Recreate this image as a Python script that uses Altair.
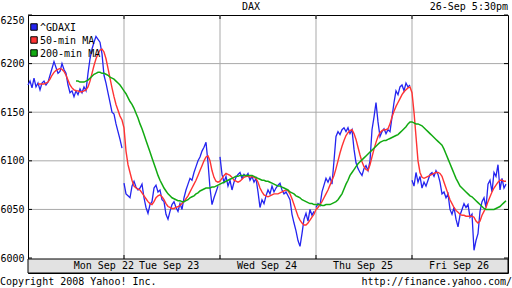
import altair as alt
import pandas as pd

# ---------------- data ----------------
days = ["Mon Sep 22", "Tue Sep 23", "Wed Sep 24", "Thu Sep 25", "Fri Sep 26"]
day_label_pos = [0.79, 1.47, 2.49, 3.49, 4.49]
y_ticks = [6000, 6050, 6100, 6150, 6200, 6250]
grid_y = [6050, 6100, 6150, 6200]
grid_x = [1, 2, 3, 4]
series_names = ["^GDAXI", "50-min MA", "200-min MA"]
series_colors = ["#2424f0", "#ff3333", "#12aa12"]

gdaxi_mon = [6178, 6182, 6175, 6185, 6176, 6180, 6173, 6180, 6182, 6178, 6181, 6188, 6195, 6202, 6196, 6190,
             6192, 6200, 6194, 6190, 6178, 6170, 6172, 6166, 6172, 6168, 6174, 6170, 6176, 6172, 6190, 6205,
             6215, 6222, 6228, 6225, 6222, 6210, 6188, 6180, 6170, 6160, 6150, 6148, 6138, 6130, 6122, 6113]
gdaxi_tue = [6077, 6066, 6064, 6062, 6074, 6079, 6073, 6070, 6072, 6076, 6062, 6052, 6046, 6055, 6058, 6072,
             6075, 6068, 6070, 6060, 6058, 6045, 6040, 6048, 6055, 6058, 6052, 6048, 6056, 6050, 6062, 6070,
             6076, 6082, 6080, 6088, 6094, 6100, 6104, 6110, 6114, 6119, 6098, 6072, 6055, 6062, 6068, 6074]
gdaxi_wed = [6104, 6086, 6078, 6084, 6074, 6080, 6070, 6078, 6083, 6086, 6088, 6082, 6086, 6084, 6087, 6080,
             6084, 6078, 6082, 6068, 6052, 6060, 6056, 6064, 6070, 6066, 6074, 6068, 6072, 6075, 6077, 6070,
             6066, 6068, 6064, 6060, 6045, 6036, 6028, 6018, 6012, 6025, 6040, 6046, 6038, 6050, 6044, 6048]
gdaxi_thu = [6052, 6056, 6054, 6068, 6075, 6082, 6078, 6083, 6076, 6100, 6125, 6130, 6127, 6132, 6134, 6130,
             6134, 6128, 6132, 6112, 6098, 6092, 6088, 6085, 6092, 6095, 6090, 6100, 6132, 6145, 6160, 6140,
             6125, 6130, 6133, 6128, 6132, 6130, 6145, 6160, 6172, 6168, 6176, 6178, 6172, 6180, 6176, 6178]
gdaxi_fri = [6080, 6074, 6088, 6078, 6084, 6072, 6078, 6074, 6080, 6086, 6088, 6084, 6090, 6086, 6078, 6066,
             6068, 6062, 6066, 6050, 6045, 6052, 6040, 6032, 6044, 6050, 6056, 6052, 6055, 6042, 6045, 6008,
             6018, 6025, 6048, 6058, 6062, 6052, 6076, 6080, 6068, 6088, 6084, 6096, 6070, 6082, 6072, 6076]

ma50_mon = [6179, 6179, 6179, 6179, 6180, 6181, 6184, 6188, 6191, 6193, 6194, 6195, 6194, 6192, 6188,
            6183, 6178, 6175, 6173, 6172, 6172, 6171, 6171, 6172, 6173, 6176, 6182, 6190, 6198, 6205,
            6210, 6214, 6215, 6212, 6205, 6195, 6185, 6175, 6166, 6158, 6152, 6146, 6142]
ma50_tue = [6134, 6110, 6096, 6088, 6080, 6074, 6072, 6071, 6070, 6067, 6064, 6061, 6058, 6056, 6055, 6058,
            6062, 6064, 6065, 6063, 6060, 6056, 6053, 6052, 6051, 6051, 6052, 6053, 6054, 6056, 6058, 6061,
            6064, 6068, 6072, 6076, 6080, 6085, 6090, 6095, 6100, 6104, 6105, 6100, 6090, 6083, 6079, 6078]
ma50_wed = [6079, 6082, 6085, 6087, 6086, 6085, 6083, 6080, 6079, 6078, 6079, 6081, 6083, 6084, 6084, 6083,
            6084, 6083, 6082, 6078, 6072, 6068, 6065, 6064, 6063, 6064, 6065, 6066, 6066, 6066, 6067, 6068,
            6069, 6070, 6069, 6066, 6061, 6055, 6049, 6043, 6039, 6036, 6034, 6034, 6036, 6039, 6042, 6045]
ma50_thu = [6050, 6052, 6055, 6058, 6062, 6066, 6070, 6075, 6080, 6085, 6092, 6100, 6108, 6115, 6121, 6126,
            6129, 6131, 6132, 6128, 6122, 6114, 6106, 6099, 6094, 6091, 6090, 6096, 6104, 6112, 6119, 6125,
            6129, 6131, 6132, 6132, 6133, 6138, 6145, 6151, 6156, 6160, 6164, 6168, 6171, 6173, 6175, 6176]
ma50_fri = [6170, 6150, 6125, 6100, 6088, 6083, 6082, 6083, 6084, 6085, 6086, 6087, 6088, 6088, 6087, 6084,
            6078, 6072, 6066, 6060, 6056, 6052, 6049, 6047, 6045, 6044, 6044, 6043, 6043, 6043, 6043, 6042,
            6038, 6036, 6038, 6044, 6048, 6052, 6058, 6063, 6068, 6072, 6075, 6078, 6080, 6080, 6079, 6079]

ma200_mon = [6182, 6182, 6181, 6181, 6181, 6182, 6183, 6185, 6187, 6189, 6190, 6191, 6191, 6190, 6190, 6189,
             6188, 6186, 6185, 6184, 6182, 6180, 6178, 6175]
ma200_tue = [6172, 6169, 6165, 6161, 6158, 6154, 6149, 6144, 6138, 6133, 6127, 6121, 6115, 6109, 6103, 6097,
             6091, 6085, 6080, 6076, 6072, 6069, 6066, 6064, 6062, 6061, 6060, 6059, 6059, 6058, 6058, 6059,
             6060, 6062, 6063, 6064, 6066, 6067, 6069, 6070, 6071, 6072, 6072, 6072, 6073, 6073, 6074, 6075]
ma200_wed = [6076, 6077, 6078, 6079, 6080, 6081, 6082, 6083, 6084, 6084, 6085, 6085, 6085, 6085, 6085, 6085,
             6085, 6084, 6083, 6082, 6081, 6080, 6080, 6079, 6079, 6078, 6077, 6076, 6075, 6074, 6074, 6073,
             6072, 6071, 6070, 6068, 6067, 6066, 6064, 6063, 6062, 6060, 6059, 6058, 6057, 6056, 6056, 6055]
ma200_thu = [6055, 6055, 6055, 6054, 6054, 6055, 6055, 6055, 6056, 6057, 6058, 6060, 6063, 6066, 6071, 6076,
             6080, 6085, 6088, 6091, 6094, 6097, 6099, 6101, 6103, 6105, 6107, 6109, 6111, 6113, 6115, 6117,
             6119, 6120, 6121, 6121, 6122, 6123, 6124, 6125, 6126, 6127, 6129, 6131, 6133, 6135, 6138, 6140]
ma200_fri = [6140, 6139, 6138, 6138, 6137, 6136, 6134, 6132, 6130, 6128, 6126, 6124, 6122, 6120, 6118, 6116,
             6112, 6107, 6102, 6097, 6092, 6087, 6082, 6078, 6074, 6072, 6070, 6068, 6066, 6064, 6063, 6061,
             6059, 6057, 6055, 6053, 6051, 6050, 6050, 6050, 6050, 6050, 6051, 6052, 6053, 6055, 6057, 6059]

POINTS_PER_DAY = 48
MA50_START = 5     # first 50-min MA sample on Monday
MA200_START = 24   # first 200-min MA sample on Monday


def build(day_lists, first_offset):
    rows = []
    for d, vals in enumerate(day_lists):
        off = first_offset if d == 0 else 0
        for i, v in enumerate(vals):
            rows.append({"x": d + (off + i) / POINTS_PER_DAY, "v": v, "day": d})
    return pd.DataFrame(rows)


gdaxi_df = build([gdaxi_mon, gdaxi_tue, gdaxi_wed, gdaxi_thu, gdaxi_fri], 0)
ma50_df = build([ma50_mon, ma50_tue, ma50_wed, ma50_thu, ma50_fri], MA50_START)
ma200_df = build([ma200_mon, ma200_tue, ma200_wed, ma200_thu, ma200_fri], MA200_START)

# ---------------- scales / encodings ----------------
W, H = 480, 258
FONT = "DejaVu Sans Mono"
xs = alt.Scale(domain=[0, 5], nice=False, zero=False)
ys = alt.Scale(domain=[5984.6, 6250], nice=False, zero=False)
yaxis = alt.Axis(values=y_ticks, format="d", labelFlush=True, domain=False, ticks=False, grid=False,
                 title=None, labelFont=FONT, labelFontSize=10, labelColor="black", labelPadding=4)
X = alt.X("x:Q", scale=xs, axis=None)
Y = alt.Y("v:Q", scale=ys, axis=yaxis)

GRID = "#a9a9a9"

hgrid = alt.Chart(pd.DataFrame({"v": grid_y})).mark_rule(color=GRID, strokeWidth=1).encode(
    y=Y, x=alt.value(0), x2=alt.value(W))
vgrid = alt.Chart(pd.DataFrame({"x": grid_x})).mark_rule(color=GRID, strokeWidth=1).encode(
    x=X, y=alt.value(0), y2=alt.value(244))
band = alt.Chart(pd.DataFrame({"a": [0]})).mark_rect(fill="#e2e2e2", stroke="black", strokeWidth=1).encode(
    x=alt.value(0), x2=alt.value(W), y=alt.value(244), y2=alt.value(H))
tick_l = alt.Chart(pd.DataFrame({"v": y_ticks})).mark_rule(color="black").encode(
    y=Y, x=alt.value(0), x2=alt.value(4))
tick_r = alt.Chart(pd.DataFrame({"v": y_ticks})).mark_rule(color="black").encode(
    y=Y, x=alt.value(W - 4), x2=alt.value(W))
tick_t = alt.Chart(pd.DataFrame({"x": grid_x})).mark_rule(color="black").encode(
    x=X, y=alt.value(0), y2=alt.value(4))
tick_b = alt.Chart(pd.DataFrame({"x": grid_x})).mark_rule(color="black").encode(
    x=X, y=alt.value(240), y2=alt.value(244))

line_gdaxi = alt.Chart(gdaxi_df).mark_line(color=series_colors[0], strokeWidth=1.3).encode(
    x=X, y=Y, detail="day:N", order="x:Q")
line_ma50 = alt.Chart(ma50_df).mark_line(color=series_colors[1], strokeWidth=1.4).encode(
    x=X, y=Y, order="x:Q")
line_ma200 = alt.Chart(ma200_df).mark_line(color=series_colors[2], strokeWidth=1.5).encode(
    x=X, y=Y, order="x:Q")

day_labels = alt.Chart(pd.DataFrame({"x": day_label_pos, "t": days})).mark_text(
    font=FONT, fontSize=10, color="black", baseline="middle", align="center").encode(
    x=X, y=alt.value(251), text="t:N")

legend_layers = []
for i, (name, col) in enumerate(zip(series_names, series_colors)):
    ly = 12 + 13 * i
    sq = alt.Chart(pd.DataFrame({"t": [name]})).mark_point(
        shape="square", filled=True, fill=col, stroke="black", strokeWidth=1, size=42, opacity=1).encode(
        x=alt.value(6), y=alt.value(ly))
    tx = alt.Chart(pd.DataFrame({"t": [name]})).mark_text(
        font=FONT, fontSize=10, color="black", align="left", baseline="middle").encode(
        x=alt.value(12), y=alt.value(ly + 1), text="t:N")
    legend_layers += [sq, tx]

title_t = alt.Chart(pd.DataFrame({"t": ["DAX"]})).mark_text(
    font=FONT, fontSize=10, color="black", align="center", baseline="middle").encode(
    x=alt.value(223), y=alt.value(-8), text="t:N")
date_t = alt.Chart(pd.DataFrame({"t": ["26-Sep 5:30pm"]})).mark_text(
    font=FONT, fontSize=10, color="black", align="right", baseline="middle").encode(
    x=alt.value(W), y=alt.value(-8), text="t:N")
copy_t = alt.Chart(pd.DataFrame({"t": ["Copyright 2008 Yahoo! Inc."]})).mark_text(
    font=FONT, fontSize=10, color="black", align="left", baseline="middle").encode(
    x=alt.value(-28), y=alt.value(267), text="t:N")
url_t = alt.Chart(pd.DataFrame({"t": ["http://finance.yahoo.com/"]})).mark_text(
    font=FONT, fontSize=10, color="black", align="right", baseline="middle").encode(
    x=alt.value(W + 4), y=alt.value(267), text="t:N")

chart = alt.layer(
    hgrid, vgrid, band, tick_l, tick_r, tick_t, tick_b,
    line_gdaxi, line_ma50, line_ma200,
    day_labels, *legend_layers, title_t, date_t, copy_t, url_t,
).properties(
    width=W, height=H,
    autosize=alt.AutoSizeParams(type="none"),
    padding={"left": 28, "top": 15, "right": 4, "bottom": 15},
    background="white",
).configure_view(stroke="black", strokeWidth=1)

chart.save("out.html", embed_options={"renderer": "svg", "actions": False})
